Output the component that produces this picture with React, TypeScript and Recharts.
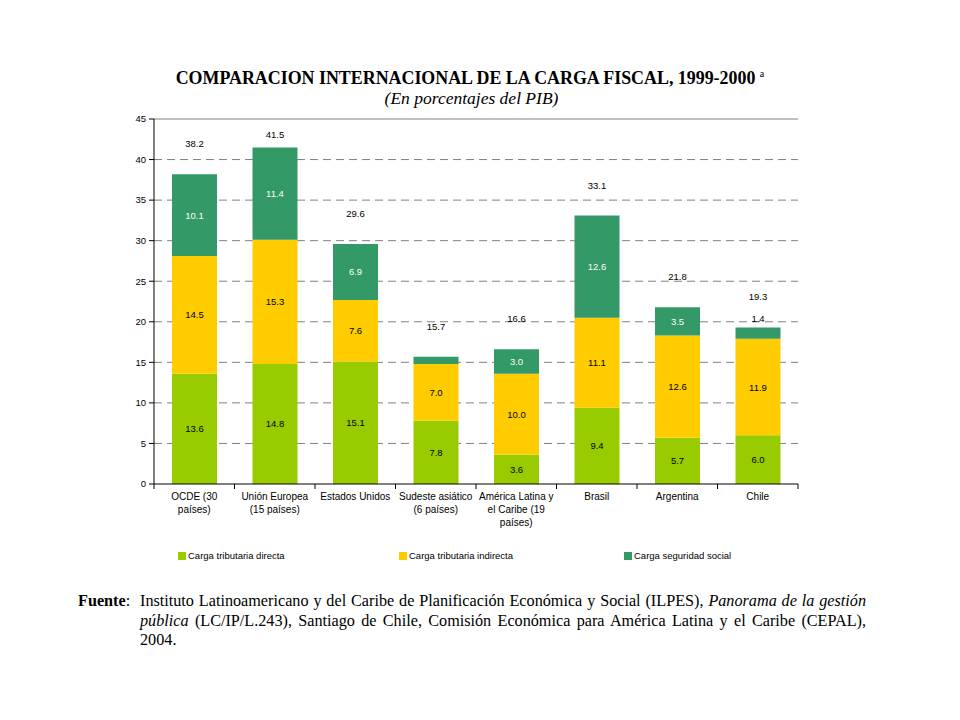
import { BarChart, Bar, XAxis, YAxis, CartesianGrid, ReferenceLine, LabelList } from "recharts";

const categories = [
  "OCDE (30\npaíses)",
  "Unión Europea\n(15 países)",
  "Estados Unidos",
  "Sudeste asiático\n(6 países)",
  "América Latina y\nel Caribe (19\npaíses)",
  "Brasil",
  "Argentina",
  "Chile",
];
const directa = [13.6, 14.8, 15.1, 7.8, 3.6, 9.4, 5.7, 6.0];
const indirecta = [14.5, 15.3, 7.6, 7.0, 10.0, 11.1, 12.6, 11.9];
const social = [10.1, 11.4, 6.9, 0.9, 3.0, 12.6, 3.5, 1.4];
const yTicks = [0, 5, 10, 15, 20, 25, 30, 35, 40, 45];
const gridValues = [5, 10, 15, 20, 25, 30, 35, 40];

const data = categories.map((name, i) => ({
  name,
  directa: directa[i],
  indirecta: indirecta[i],
  social: social[i],
  total: directa[i] + indirecta[i] + social[i],
}));

const COLORS = { directa: "#99CC00", indirecta: "#FFCC00", social: "#339966" };
const SANS = "'Liberation Sans', Arial, sans-serif";
const SERIF = "'Liberation Serif', 'Times New Roman', serif";

const PLOT_LEFT = 154;
const PLOT_RIGHT = 798;
const PLOT_TOP = 119;
const PLOT_BOTTOM = 484;
const BAND = (PLOT_RIGHT - PLOT_LEFT) / categories.length;

const CategoryTick = ({ x, y, payload, index }: any) => {
  const lines = String(payload.value).split("\n");
  const last = index === categories.length - 1;
  return (
    <g>
      <line x1={x - BAND / 2} y1={y} x2={x - BAND / 2} y2={y + 5} stroke="#000" />
      {last && <line x1={x + BAND / 2} y1={y} x2={x + BAND / 2} y2={y + 5} stroke="#000" />}
      {lines.map((line, i) => (
        <text key={i} x={x} y={y + 16 + i * 13} textAnchor="middle" fontSize={10} fontFamily={SANS} fill="#000">
          {line}
        </text>
      ))}
    </g>
  );
};

const innerLabel = (color: string) => (props: any) => {
  const { x, y, width, height, value } = props;
  return (
    <text x={x + width / 2} y={y + height / 2 + 3.5} textAnchor="middle" fontSize={9.5} fontFamily={SANS} fill={color}>
      {Number(value).toFixed(1)}
    </text>
  );
};

const SocialLabel = (props: any) => {
  const { x, y, width, height, value, index } = props;
  const cx = x + width / 2;
  const total = data[index].total.toFixed(1);
  const totalY = Math.max(y - 27, PLOT_TOP + 19);
  return (
    <g fontSize={9.5} fontFamily={SANS}>
      {value >= 1 && height >= 14 && (
        <text x={cx} y={y + height / 2 + 3.5} textAnchor="middle" fill="#fff">
          {Number(value).toFixed(1)}
        </text>
      )}
      {value >= 1 && height < 14 && (
        <text x={cx} y={y - 5} textAnchor="middle" fill="#000">
          {Number(value).toFixed(1)}
        </text>
      )}
      <text x={cx} y={totalY} textAnchor="middle" fill="#000">
        {total}
      </text>
    </g>
  );
};

const legendItems = [
  { label: "Carga tributaria directa", color: COLORS.directa, left: 178 },
  { label: "Carga tributaria indirecta", color: COLORS.indirecta, left: 399 },
  { label: "Carga seguridad social", color: COLORS.social, left: 624 },
];

export default function App() {
  return (
    <div style={{ position: "absolute", left: 0, top: 0, width: 960, height: 720, background: "#fff" }}>
      <div
        style={{
          position: "absolute",
          left: 0,
          width: 940,
          top: 63,
          textAlign: "center",
          fontFamily: SERIF,
          fontSize: 17.9,
          fontWeight: "bold",
          lineHeight: "22px",
        }}
      >
        COMPARACION INTERNACIONAL DE LA CARGA FISCAL, 1999-2000{" "}
        <sup style={{ fontSize: 10, fontWeight: "normal" }}>a</sup>
      </div>
      <div
        style={{
          position: "absolute",
          left: 0,
          width: 943,
          top: 87,
          textAlign: "center",
          fontFamily: SERIF,
          fontSize: 17.5,
          fontStyle: "italic",
          lineHeight: "22px",
        }}
      >
        (En porcentajes del PIB)
      </div>

      <div style={{ position: "absolute", left: 0, top: 0 }}>
        <BarChart
          width={960}
          height={720}
          data={data}
          margin={{ top: PLOT_TOP, right: 960 - PLOT_RIGHT, left: PLOT_LEFT - 40, bottom: 720 - PLOT_BOTTOM - 60 }}
          barSize={45}
        >
          <CartesianGrid vertical={false} horizontalValues={gridValues} stroke="#808080" strokeDasharray="8 5" />
          <XAxis
            dataKey="name"
            interval={0}
            height={60}
            tickLine={false}
            tickSize={0}
            tickMargin={0}
            axisLine={{ stroke: "#000" }}
            tick={<CategoryTick />}
          />
          <YAxis
            width={40}
            domain={[0, 45]}
            ticks={yTicks}
            interval={0}
            tickSize={5}
            tickMargin={3}
            axisLine={{ stroke: "#000" }}
            tickLine={{ stroke: "#000" }}
            tick={{ fontSize: 9.5, fontFamily: SANS, fill: "#000" }}
          />
          <YAxis
            yAxisId="right"
            orientation="right"
            width={0}
            domain={[0, 45]}
            tick={false}
            tickLine={false}
            axisLine={{ stroke: "#808080" }}
          />
          <ReferenceLine y={45} stroke="#808080" />
          <Bar dataKey="directa" stackId="a" fill={COLORS.directa} isAnimationActive={false}>
            <LabelList dataKey="directa" content={innerLabel("#000")} />
          </Bar>
          <Bar dataKey="indirecta" stackId="a" fill={COLORS.indirecta} isAnimationActive={false}>
            <LabelList dataKey="indirecta" content={innerLabel("#000")} />
          </Bar>
          <Bar dataKey="social" stackId="a" fill={COLORS.social} isAnimationActive={false}>
            <LabelList dataKey="social" content={SocialLabel} />
          </Bar>
        </BarChart>
      </div>

      {legendItems.map((item) => (
        <div
          key={item.label}
          style={{
            position: "absolute",
            left: item.left,
            top: 550,
            display: "flex",
            alignItems: "center",
            fontFamily: SANS,
            fontSize: 9.5,
          }}
        >
          <span style={{ display: "inline-block", width: 8, height: 8, background: item.color, marginRight: 2 }} />
          {item.label}
        </div>
      ))}

      <div style={{ position: "absolute", left: 78, top: 592, width: 788, fontFamily: SERIF, fontSize: 16.2, lineHeight: "19.5px", display: "flex" }}>
        <div style={{ width: 62, flexShrink: 0, fontWeight: "bold" }}>
          Fuente<span style={{ fontWeight: "normal" }}>:</span>
        </div>
        <div style={{ textAlign: "justify" }}>
          <span>Instituto Latinoamericano y del Caribe de Planificación Económica y Social (ILPES),</span>{" "}
          <i>Panorama de la gestión</i> <i>pública</i>{" "}
          <span>(LC/IP/L.243), Santiago de Chile, Comisión Económica para América Latina y el Caribe (CEPAL),</span>{" "}
          <span>2004.</span>
        </div>
      </div>
    </div>
  );
}
